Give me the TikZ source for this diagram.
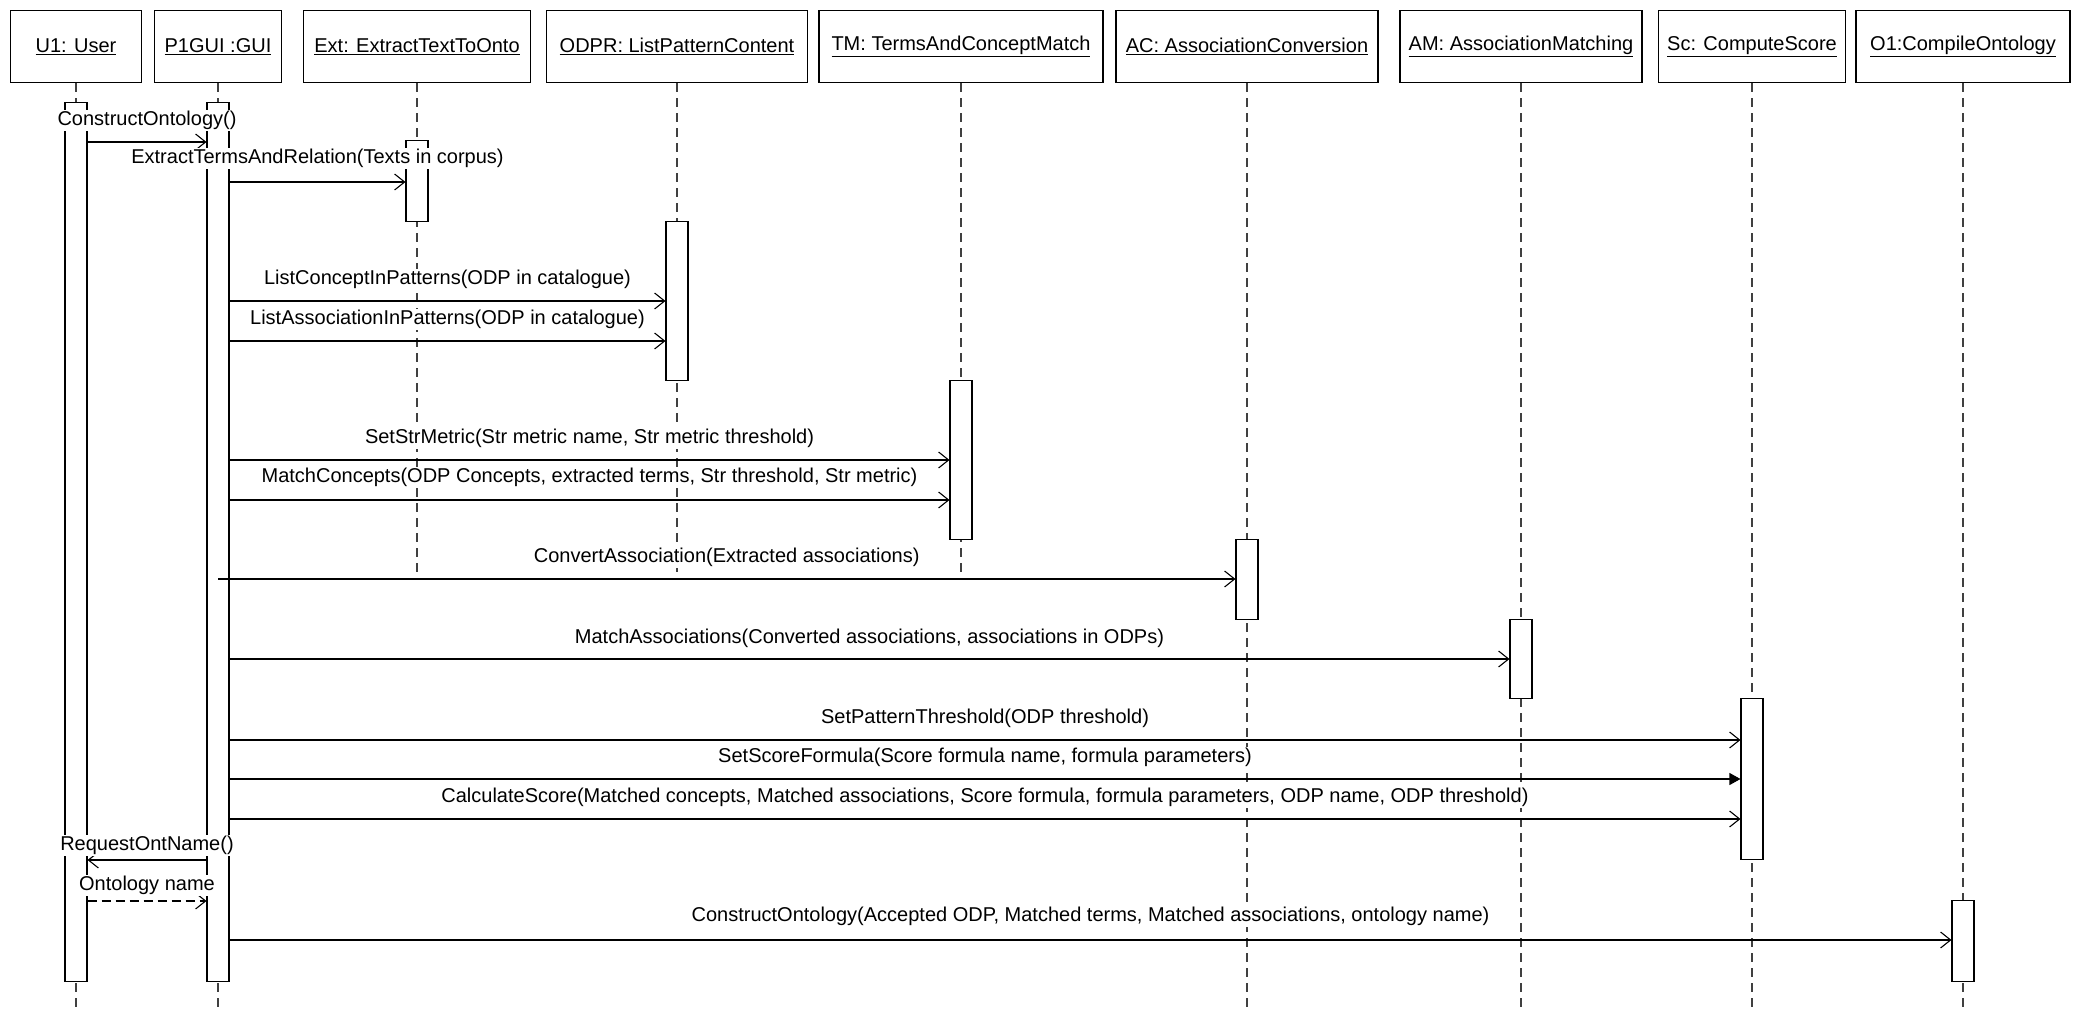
\documentclass[tikz,border=0pt]{standalone}
\usepackage{fontspec}
\setmainfont{Liberation Sans}
\usetikzlibrary{arrows.meta}

\begin{document}
\begin{tikzpicture}[x=1pt,y=-1pt,
  font=\fontsize{20}{24}\selectfont,
  obj/.style={draw, fill=white, line width=1.3pt, minimum height=72pt, inner sep=0pt, anchor=north},
  life/.style={line width=1.1pt, dash pattern=on 9pt off 6pt, black!75},
  act/.style={draw, fill=white, line width=1.1pt, minimum width=22pt, inner sep=0pt, anchor=north},
  msg/.style={line width=1.1pt, -{Straight Barb[length=10pt,width=16pt,line width=1.1pt]}},
  fmsg/.style={line width=1.1pt, -{Triangle[length=11pt,width=12pt]}},
  rmsg/.style={msg, dashed, dash pattern=on 9pt off 5pt},
  lbl/.style={fill=white, inner sep=1pt, midway, yshift=21.5pt}
]
\useasboundingbox (0,0) rectangle (2078,1011);

% lifelines
\coordinate (bottom) at (0,1011);
\coordinate (cut) at (0,572);

% object heads
\node[obj, minimum width=131pt] (u1)   at (76,10)   {\underline{U1: User}};
\node[obj, minimum width=127pt] (gui)  at (218,10)  {\underline{P1GUI :GUI}};
\node[obj, minimum width=227pt] (ext)  at (417,10)  {\underline{Ext: ExtractTextToOnto}};
\node[obj, minimum width=261pt] (odpr) at (677,10)  {\underline{ODPR: ListPatternContent}};
\node[obj, minimum width=284pt] (tm)   at (961,10)  {\underline{TM: TermsAndConceptMatch}};
\node[obj, minimum width=262pt] (ac)   at (1247,10) {\underline{AC: AssociationConversion}};
\node[obj, minimum width=242pt] (am)   at (1521,10) {\underline{AM: AssociationMatching}};
\node[obj, minimum width=187pt] (sc)   at (1752,10) {\underline{Sc: ComputeScore}};
\node[obj, minimum width=214pt] (o1)   at (1963,10) {\underline{O1:CompileOntology}};

\foreach \o in {u1,gui,ac,am,sc,o1}
  \draw[life] (\o.south) -- (\o.south |- bottom);
\foreach \o in {ext,odpr,tm}
  \draw[life] (\o.south) -- (\o.south |- cut);

% activation bars
\node[act, minimum height=879pt] (au1)   at (76,102)   {};
\node[act, minimum height=879pt] (agui)  at (218,102)  {};
\node[act, minimum height=81pt]  (aext)  at (417,140)  {};
\node[act, minimum height=159pt] (aodpr) at (677,221)  {};
\node[act, minimum height=159pt] (atm)   at (961,380)  {};
\node[act, minimum height=80pt]  (aac)   at (1247,539) {};
\node[act, minimum height=79pt]  (aam)   at (1521,619) {};
\node[act, minimum height=161pt] (asc)   at (1752,698) {};
\node[act, minimum height=81pt]  (ao1)   at (1963,900) {};

% messages
\draw[msg] (au1.east |- 0,142) -- (agui.west |- 0,142)
  node[lbl] {ConstructOntology()};
\draw[msg] (agui.east |- 0,182) -- (aext.west |- 0,182)
  node[lbl, yshift=2pt] {ExtractTermsAndRelation(Texts in corpus)};
\draw[msg] (agui.east |- 0,301) -- (aodpr.west |- 0,301)
  node[lbl] {ListConceptInPatterns(ODP in catalogue)};
\draw[msg] (agui.east |- 0,341) -- (aodpr.west |- 0,341)
  node[lbl] {ListAssociationInPatterns(ODP in catalogue)};
\draw[msg] (agui.east |- 0,460) -- (atm.west |- 0,460)
  node[lbl] {SetStrMetric(Str metric name, Str metric threshold)};
\draw[msg] (agui.east |- 0,500) -- (atm.west |- 0,500)
  node[lbl, yshift=1pt] {MatchConcepts(ODP Concepts, extracted terms, Str threshold, Str metric)};
\draw[msg] (agui.center |- 0,579) -- (aac.west |- 0,579)
  node[lbl] {ConvertAssociation(Extracted associations)};
\draw[msg] (agui.east |- 0,659) -- (aam.west |- 0,659)
  node[lbl, yshift=-1pt] {MatchAssociations(Converted associations, associations in ODPs)};
\draw[msg] (agui.east |- 0,740) -- (asc.west |- 0,740)
  node[lbl] {SetPatternThreshold(ODP threshold)};
\draw[fmsg] (agui.east |- 0,779) -- (asc.west |- 0,779)
  node[lbl] {SetScoreFormula(Score formula name, formula parameters)};
\draw[msg] (agui.east |- 0,819) -- (asc.west |- 0,819)
  node[lbl] {CalculateScore(Matched concepts, Matched associations, Score formula, formula parameters, ODP name, ODP threshold)};
\draw[msg] (agui.west |- 0,860) -- (au1.east |- 0,860)
  node[lbl, yshift=-7pt] {RequestOntName()};
\draw[rmsg] (au1.east |- 0,901) -- (agui.west |- 0,901)
  node[lbl, yshift=-6pt] {Ontology name};
\draw[msg] (agui.east |- 0,940) -- (ao1.west |- 0,940)
  node[lbl, yshift=2pt] {ConstructOntology(Accepted ODP, Matched terms, Matched associations, ontology name)};
\end{tikzpicture}
\end{document}
